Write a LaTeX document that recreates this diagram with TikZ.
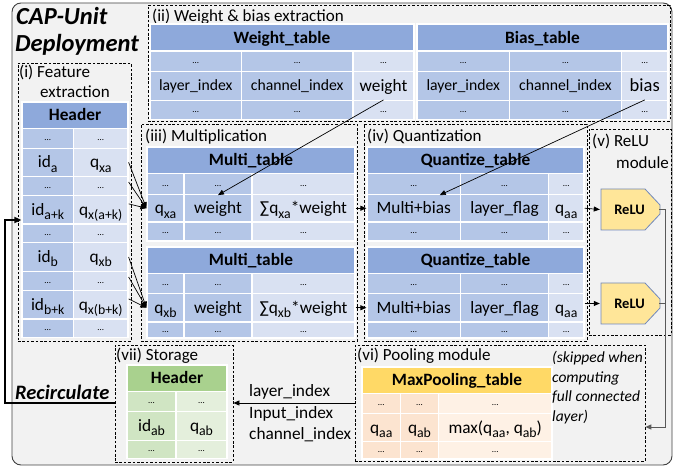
\documentclass[tikz,border=0pt]{standalone}
\usepackage{fontspec}
\setmainfont{Carlito}
\usetikzlibrary{arrows.meta}
\definecolor{hdrblue}{HTML}{8EA9DB}
\definecolor{dkblue}{HTML}{B4C6E7}
\definecolor{ltblue}{HTML}{D9E1F2}
\definecolor{hdrgreen}{HTML}{A9D18E}
\definecolor{dkgreen}{HTML}{D0E5C3}
\definecolor{ltgreen}{HTML}{E4EFDC}
\definecolor{hdrgold}{HTML}{FFD966}
\definecolor{dkpeach}{HTML}{FCE4D0}
\definecolor{ltpeach}{HTML}{FEF1E5}
\definecolor{relufill}{HTML}{FFE699}
\definecolor{reluedge}{HTML}{7088BD}
\definecolor{bgray}{HTML}{F2F2F2}
\definecolor{edgegray}{HTML}{404040}
\newcommand\cellfont{\fontsize{17.3}{20}\selectfont}
\newcommand\hdrfont{\fontsize{17.3}{20}\selectfont\bfseries}
\newcommand\lblfont{\fontsize{17}{20}\selectfont}
\newcommand\dotfont{\fontsize{9}{10}\selectfont}
\newcommand\dd{\raisebox{3.5pt}{\dotfont …}}
\newcommand\sm[1]{\raisebox{1.2pt}{\fontsize{15.7}{18}\selectfont #1}}
\newcommand\sub[1]{\raisebox{-4.3pt}{\fontsize{13.8}{14}\selectfont #1}}
\newcommand\tcell[7]{\node[tc,fill=#6,minimum width={(#4)-(#2)},minimum height={(#5)-(#3)}] (#1) at ({((#2)+(#4))/2},{((#3)+(#5))/2}) {#7};}
\newcommand\dbox[5]{\node[dboxst,minimum width={(#4)-(#2)},minimum height={(#5)-(#3)}] (#1) at ({((#2)+(#4))/2},{((#3)+(#5))/2}) {};}
\newcommand\rowthree[7]{%
 \tcell{#1-#2-1}{\cA}{#3}{\cB}{#4}{dk}{#5}%
 \tcell{#1-#2-2}{\cB}{#3}{\cC}{#4}{dk}{#6}%
 \tcell{#1-#2-3}{\cC}{#3}{\cD}{#4}{lt}{#7}}
\newcommand\rowtwo[6]{%
 \tcell{#1-#2-1}{\cA}{#3}{\cB}{#4}{dk}{#5}%
 \tcell{#1-#2-2}{\cB}{#3}{\cC}{#4}{lt}{#6}}
\begin{document}
\begin{tikzpicture}[x=1pt,y=-1pt,
  tc/.style={draw=white,line width=1.2pt,inner sep=0pt,font=\cellfont,text=black,text height=11.1pt,text depth=0pt},
  dboxst/.style={draw=black,dashed,dash pattern=on 2.6pt off 1.8pt,line width=0.7pt,inner sep=0pt},
  lbl/.style={anchor=base west,inner sep=0pt,font=\lblfont},
  arr/.style={-{Triangle[length=6pt,width=5pt]},line width=0.7pt,black},
  garr/.style={-{Triangle[length=6pt,width=5pt]},line width=0.9pt,black!65},
  rarr/.style={-{Triangle[length=7pt,width=6pt]},line width=1.6pt,black},
  relut/.style={inner sep=0pt,minimum width=59pt,minimum height=41pt,font=\fontsize{14.5}{17}\selectfont\bfseries},
  relushape/.style={fill=relufill,draw=reluedge,line width=0.8pt}]
\useasboundingbox (0,0) rectangle (689,470);
% outer box
\node[draw=edgegray,fill=bgray,line width=0.9pt,rounded corners=9pt,minimum width=660pt,minimum height=462pt,inner sep=0pt] (outer) at (342,234) {};
\node[anchor=base west,inner sep=0pt,font=\fontsize{24.5}{28}\selectfont\bfseries\itshape] (title1) at (16,25) {CAP-Unit};
\node[anchor=base west,inner sep=0pt,font=\fontsize{24.5}{28}\selectfont\bfseries\itshape] (title2) at (15,52) {Deployment};
% dashed boxes
\dbox{boxii}{148}{5}{670}{121}
\dbox{boxi}{18}{63}{131}{341}
\dbox{boxiii}{141}{124}{357.5}{341}
\dbox{boxiv}{364}{124}{587}{341}
\dbox{boxv}{589}{129}{671}{335}
\dbox{boxvi}{355}{345}{645}{461}
\dbox{boxvii}{115}{345}{233}{462}
\node[lbl] (lii) at (152,21.5) {(ii) Weight \& bias extraction};
\node[lbl] (li1) at (19,78) {(i) Feature};
\node[lbl] (li2) at (40,98) {extraction};
\node[lbl] (liii) at (145,142) {(iii) Multiplication};
\node[lbl] (liv) at (367,142) {(iv) Quantization};
\node[lbl] (lv1) at (592,147) {(v) ReLU};
\node[lbl] (lv2) at (616,169) {module};
\node[lbl] (lvi) at (357,361) {(vi) Pooling module};
\node[lbl] (lvii) at (116,361) {(vii) Storage};
% Weight table
\colorlet{dk}{dkblue}\colorlet{lt}{ltblue}
\def\cA{150}\def\cB{241.5}\def\cC{353}\def\cD{414}
\tcell{wt-h}{150}{24}{414}{51}{hdrblue}{\hdrfont Weight\_table}
\rowthree{wt}{1}{51}{71.5}{\dd}{\dd}{\dd}
\rowthree{wt}{2}{71.5}{100.5}{\sm{layer\_index}}{\sm{channel\_index}}{weight}
\rowthree{wt}{3}{100.5}{119.5}{\dd}{\dd}{\dd}
% Bias table
\def\cA{417}\def\cB{509.5}\def\cC{621.5}\def\cD{668}
\tcell{bt-h}{417}{24}{668}{51}{hdrblue}{\hdrfont Bias\_table}
\rowthree{bt}{1}{51}{71.5}{\dd}{\dd}{\dd}
\rowthree{bt}{2}{71.5}{100.5}{\sm{layer\_index}}{\sm{channel\_index}}{\fontsize{18.5}{20}\selectfont bias}
\rowthree{bt}{3}{100.5}{119.5}{\dd}{\dd}{\dd}
% Header table (i)
\def\cA{22}\def\cB{73.5}\def\cC{128}
\tcell{ht-h}{22}{102}{128}{128.5}{hdrblue}{\hdrfont Header}
\rowtwo{ht}{1}{128.5}{148.3}{\dd}{\dd}
\rowtwo{ht}{2}{148.3}{176.3}{id\sub{a}}{q\sub{xa}}
\rowtwo{ht}{3}{176.3}{195.7}{\dd}{\dd}
\rowtwo{ht}{4}{195.7}{224}{id\sub{a+k}}{q\sub{x(a+k)}}
\rowtwo{ht}{5}{224}{242.7}{\dd}{\dd}
\rowtwo{ht}{6}{242.7}{271.3}{id\sub{b}}{q\sub{xb}}
\rowtwo{ht}{7}{271.3}{290.7}{\dd}{\dd}
\rowtwo{ht}{8}{290.7}{319}{id\sub{b+k}}{q\sub{x(b+k)}}
\rowtwo{ht}{9}{319}{337.5}{\dd}{\dd}
% Multi tables
\def\cA{147}\def\cB{184}\def\cC{252}\def\cD{355}
\tcell{ma-h}{147}{147}{355}{173.5}{hdrblue}{\hdrfont Multi\_table}
\rowthree{ma}{1}{173.5}{194.5}{\dd}{\dd}{\dd}
\rowthree{ma}{2}{194.5}{222}{q\sub{xa}}{weight}{∑q\sub{xa}*weight}
\rowthree{ma}{3}{222}{241}{\dd}{\dd}{\dd}
\tcell{mb-h}{147}{247}{355}{273.5}{hdrblue}{\hdrfont Multi\_table}
\rowthree{mb}{1}{273.5}{293.5}{\dd}{\dd}{\dd}
\rowthree{mb}{2}{293.5}{322}{q\sub{xb}}{weight}{∑q\sub{xb}*weight}
\rowthree{mb}{3}{322}{338}{\dd}{\dd}{\dd}
% Quantize tables
\def\cA{367}\def\cB{460.5}\def\cC{548.5}\def\cD{584}
\tcell{qa-h}{367}{147}{584}{173.5}{hdrblue}{\hdrfont Quantize\_table}
\rowthree{qa}{1}{173.5}{194.5}{\dd}{\dd}{\dd}
\rowthree{qa}{2}{194.5}{222}{Multi+bias}{layer\_flag}{q\sub{aa}}
\rowthree{qa}{3}{222}{241}{\dd}{\dd}{\dd}
\tcell{qb-h}{367}{247}{584}{273.5}{hdrblue}{\hdrfont Quantize\_table}
\rowthree{qb}{1}{273.5}{293.5}{\dd}{\dd}{\dd}
\rowthree{qb}{2}{293.5}{322}{Multi+bias}{layer\_flag}{q\sub{aa}}
\rowthree{qb}{3}{322}{338}{\dd}{\dd}{\dd}
% MaxPooling table
\colorlet{dk}{dkpeach}\colorlet{lt}{ltpeach}
\def\cA{362}\def\cB{400.5}\def\cC{438.5}\def\cD{552}
\tcell{mp-h}{362}{367}{552}{393.5}{hdrgold}{\hdrfont MaxPooling\_table}
\rowthree{mp}{1}{393.5}{413.5}{\dd}{\dd}{\dd}
\rowthree{mp}{2}{413.5}{441.5}{q\sub{aa}}{q\sub{ab}}{max(q\sub{aa}, q\sub{ab})}
\rowthree{mp}{3}{441.5}{459}{\dd}{\dd}{\dd}
% Storage table
\colorlet{dk}{dkgreen}\colorlet{lt}{ltgreen}
\def\cA{127}\def\cB{176}\def\cC{227}
\tcell{st-h}{127}{365}{227}{391.5}{hdrgreen}{\hdrfont Header}
\rowtwo{st}{1}{391.5}{411.5}{\dd}{\dd}
\rowtwo{st}{2}{411.5}{440.5}{id\sub{ab}}{q\sub{ab}}
\rowtwo{st}{3}{440.5}{458.5}{\dd}{\dd}
% ReLU modules
\filldraw[relushape] (601,189) -- (645,189) -- (660,205) -- (660,214) -- (645,230) -- (601,230) -- cycle;
\node[relut] (relu1) at (629.5,209.5) {ReLU};
\filldraw[relushape] (601,283) -- (645,283) -- (660,299) -- (660,308) -- (645,324) -- (601,324) -- cycle;
\node[relut] (relu2) at (629.5,303.5) {ReLU};
% notes
\node[anchor=base west,inner sep=0pt,font=\fontsize{15.5}{18}\selectfont\itshape] (n1) at (552,363) {(skipped when};
\node[anchor=base west,inner sep=0pt,font=\fontsize{15.5}{18}\selectfont\itshape] (n2) at (552,382.5) {computing};
\node[anchor=base west,inner sep=0pt,font=\fontsize{15.5}{18}\selectfont\itshape] (n3) at (552,402) {full connected};
\node[anchor=base west,inner sep=0pt,font=\fontsize{15.5}{18}\selectfont\itshape] (n4) at (552,421.5) {layer)};
\node[lbl,font=\fontsize{17.3}{20}\selectfont] (s1) at (249,397) {layer\_index};
\node[lbl,font=\fontsize{17.3}{20}\selectfont] (s2) at (249,418.5) {Input\_index};
\node[lbl,font=\fontsize{17.3}{20}\selectfont] (s3) at (249,440) {channel\_index};
\node[anchor=base west,inner sep=0pt,font=\fontsize{20.5}{24}\selectfont\bfseries\itshape] (recirc) at (15,399.5) {Recirculate};
% helper coordinates
\coordinate (lvl403) at (0,403);
\coordinate (lvl427) at (0,427);
\coordinate (lvl220) at (0,220);
\coordinate (rx) at (665,0);
\coordinate (lx) at (5,0);
% connectors
\draw[arr] (ht-2-2.east) -- (ma-2-1.west);
\draw[arr] ([yshift=4pt]ht-3-2.east) -- (ma-2-1.west);
\draw[arr] ([yshift=6pt]ht-4-2.east) -- (ma-2-1.west);
\draw[arr] (ht-6-2.east) -- (mb-2-1.west);
\draw[arr] ([yshift=4pt]ht-7-2.east) -- (mb-2-1.west);
\draw[arr] ([yshift=6pt]ht-8-2.east) -- (mb-2-1.west);
\draw[arr] (wt-3-3.north) -- (ma-1-2.south);
\draw[arr] (bt-3-3.north) -- ([xshift=26pt]qa-1-1.south);
\draw[arr] (ma-2-3.east) -- (qa-2-1.west);
\draw[arr] (mb-2-3.east) -- (qb-2-1.west);
\draw[arr] (qa-2-3.east) -- (relu1.west);
\draw[arr] (qb-2-3.east |- relu2.west) -- (relu2.west);
\draw[garr] (relu1.east) -| (rx |- lvl427) -- (boxvi.east |- lvl427);
\draw[line width=0.9pt,black!65] (relu2.east) -| (rx |- lvl427);
\draw[arr] (boxvi.west |- lvl403) -- (boxvii.east |- lvl403);
\draw[rarr] (boxvii.west |- lvl403) -- (lx |- lvl403) -- (lx |- lvl220) -- (ht-4-1.west |- lvl220);
\end{tikzpicture}
\end{document}
